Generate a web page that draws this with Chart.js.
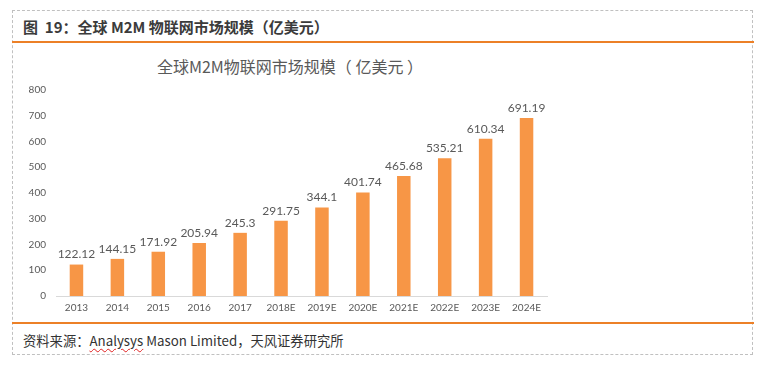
<!DOCTYPE html>
<html>
<head>
<meta charset="utf-8">
<script src="https://cdn.jsdelivr.net/npm/chart.js@4/dist/chart.umd.min.js"></script>
<style>
  body { margin: 0; background: #fff; width: 767px; height: 367px; position: relative; overflow: hidden; }
  #frame { position: absolute; left: 12px; top: 10px; width: 741px; height: 345px; border: 1px dashed #c0c0c0; box-sizing: border-box; }
  #header { position: absolute; left: 23px; top: 16px; font: bold 15px "Noto Sans CJK SC", sans-serif; color: #3b3b3b; white-space: nowrap; }
  .rule { position: absolute; left: 12px; width: 742px; height: 2px; background: #ec8027; }
  #source { position: absolute; left: 23px; top: 331px; font: 13.3px "Noto Sans CJK SC", sans-serif; color: #333; white-space: nowrap; }
  #source .spell { text-decoration: underline wavy #e02020; text-decoration-thickness: 1px; text-underline-offset: 2px; }
  #wrap { position: absolute; left: 12px; top: 43px; width: 570px; height: 285px; }
  #chartTitle { position: absolute; left: 90px; width: 400px; top: 55px; text-align: center; font: 16px "Noto Sans CJK SC", sans-serif; color: #595959; line-height: 22px; white-space: nowrap; }
</style>
</head>
<body>
<div id="frame"></div>
<div id="header">图&nbsp; 19：全球 M2M 物联网市场规模（亿美元）</div>
<div id="chartTitle">全球M2M物联网市场规模（ 亿美元 ）</div>
<div id="wrap"><canvas id="m2mChart" width="570" height="285"></canvas></div>
<div class="rule" style="top:41px"></div>
<div class="rule" style="top:322px"></div>
<div id="source">资料来源：<span class="spell">Analysys</span> Mason Limited，天风证券研究所</div>

<script>
const years = ["2013", "2014", "2015", "2016", "2017", "2018E", "2019E", "2020E", "2021E", "2022E", "2023E", "2024E"];
const marketSize = [122.12, 144.15, 171.92, 205.94, 245.3, 291.75, 344.1, 401.74, 465.68, 535.21, 610.34, 691.19];
const yTicks = [0, 100, 200, 300, 400, 500, 600, 700, 800];

const labelFont = "Lato, 'Open Sans', sans-serif";

// draw the value above every bar
const valueLabels = {
    id: "valueLabels",
    afterDatasetsDraw(chart) {
        const ctx = chart.ctx;
        const meta = chart.getDatasetMeta(0);
        ctx.save();
        ctx.font = "12px " + labelFont;
        ctx.fillStyle = "#595959";
        ctx.textAlign = "center";
        ctx.textBaseline = "bottom";
        meta.data.forEach((bar, i) => {
            ctx.fillText(String(marketSize[i]), bar.x, bar.y - 4);
        });
        ctx.restore();
    }
};

new Chart("m2mChart", {
    type: "bar",
    data: {
        labels: years,
        datasets: [{
            data: marketSize,
            backgroundColor: "#f79646",
            barPercentage: 0.33,
            categoryPercentage: 1
        }]
    },
    options: {
        responsive: false,
        animation: false,
        layout: { padding: { left: 0, right: 35, top: 47, bottom: 8 } },
        scales: {
            x: {
                grid: { display: false, drawTicks: false, tickLength: 0 },
                border: { display: true, color: "#d9d9d9" },
                ticks: { color: "#595959", font: { size: 10, family: labelFont }, padding: 6, maxRotation: 0 }
            },
            y: {
                min: 0,
                max: 800,
                afterBuildTicks: (scale) => { scale.ticks = yTicks.map(v => ({ value: v })); },
                afterFit: (scale) => { scale.width = 44; },
                grid: { display: false, drawTicks: false, tickLength: 0 },
                border: { display: false },
                ticks: { color: "#595959", font: { size: 10, family: labelFont }, padding: 10 }
            }
        },
        plugins: {
            legend: { display: false },
            tooltip: { enabled: false }
        }
    },
    plugins: [valueLabels]
});
</script>
</body>
</html>
